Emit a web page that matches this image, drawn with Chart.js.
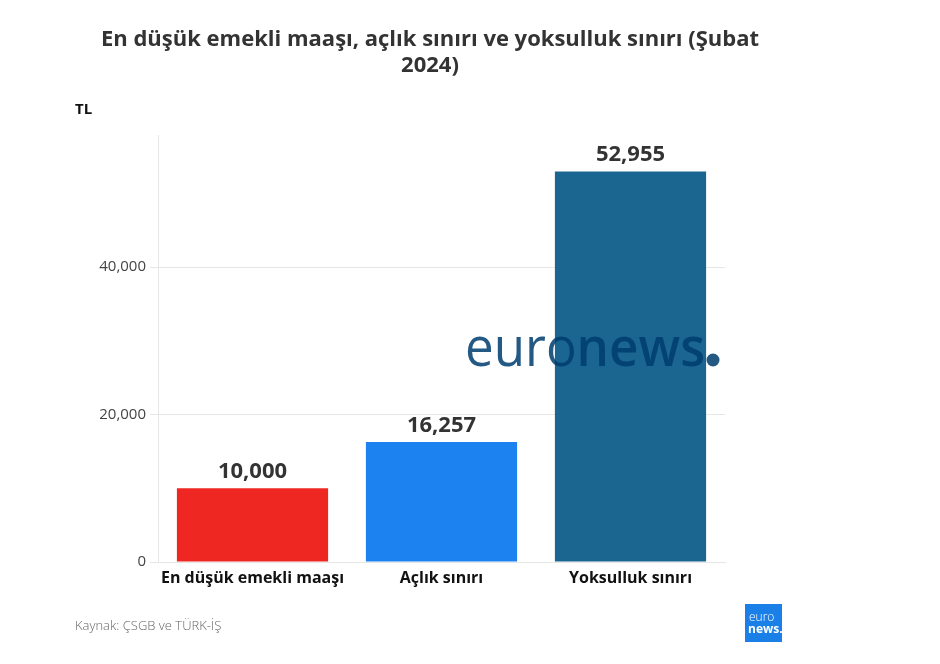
<!DOCTYPE html>
<html><head><meta charset="utf-8">
<script src="https://cdn.jsdelivr.net/npm/chart.js@4/dist/chart.umd.min.js"></script>
<style>html,body{margin:0;padding:0;background:#fff}#wrap{width:940px;height:664px;position:relative}</style>
</head><body><div id="wrap"><canvas id="c" width="940" height="664"></canvas></div>
<script>
const categories = ["En düşük emekli maaşı", "Açlık sınırı", "Yoksulluk sınırı"];
const values = [10000, 16257, 52955];
const barColors = ["#ee2722", "#1c82ef", "#1b6691"];
const yTicks = [0, 20000, 40000];
const titleLines = ["En düşük emekli maaşı, açlık sınırı ve yoksulluk sınırı (Şubat", "2024)"];
const unitLabel = "TL";
const sourceText = "Kaynak: ÇSGB ve TÜRK-İŞ";

const fmt = v => v.toLocaleString('en-US');
const FONT = "'Open Sans', 'Noto Sans', sans-serif";

const decor = {
  id: 'decor',
  afterDatasetsDraw(chart) {
    const ctx = chart.ctx;
    ctx.save();
    ctx.fillStyle = '#333';
    ctx.font = "bold 22px " + FONT;
    ctx.textAlign = 'center';
    ctx.textBaseline = 'alphabetic';
    chart.getDatasetMeta(0).data.forEach((bar, i) => {
      ctx.fillText(fmt(values[i]), bar.x, bar.y - 10);
    });
    ctx.restore();
  },
  afterDraw(chart) {
    const ctx = chart.ctx;
    ctx.save();
    // title
    ctx.fillStyle = '#333';
    ctx.font = "bold 22px " + FONT;
    ctx.textAlign = 'center';
    ctx.textBaseline = 'middle';
    titleLines.forEach((t, i) => ctx.fillText(t, 430, 40 + i * 26));
    // unit
    ctx.fillStyle = '#111';
    ctx.font = "bold 15px " + FONT;
    ctx.textAlign = 'left';
    ctx.fillText(unitLabel, 75, 110);
    // source
    ctx.fillStyle = '#666';
    ctx.font = "300 13px " + FONT;
    ctx.fillText(sourceText, 75, 626);
    // watermark
    ctx.fillStyle = 'rgba(0,62,112,0.86)';
    ctx.textBaseline = 'alphabetic';
    ctx.font = "400 54px " + FONT;
    const w1 = ctx.measureText('euro').width;
    ctx.font = "600 54px " + FONT;
    const w2 = ctx.measureText('news').width;
    const sx = 240 / (w1 + w2);
    ctx.save();
    ctx.translate(465, 366);
    ctx.scale(sx, 1);
    ctx.font = "400 54px " + FONT;
    ctx.fillText('euro', 0, 0);
    ctx.font = "600 54px " + FONT;
    ctx.fillText('news', w1, 0);
    ctx.restore();
    ctx.beginPath();
    ctx.arc(713, 360, 6.5, 0, Math.PI * 2);
    ctx.fill();
    // logo
    ctx.fillStyle = '#1a80e8';
    ctx.fillRect(745, 604, 37, 38);
    ctx.fillStyle = '#fff';
    ctx.textAlign = 'left';
    ctx.font = "300 12px " + FONT;
    ctx.fillText('euro', 749, 621);
    ctx.font = "bold 12px " + FONT;
    ctx.fillText('news.', 748, 633);
    ctx.restore();
  }
};

new Chart(document.getElementById('c'), {
  type: 'bar',
  data: {
    labels: categories,
    datasets: [{ data: values, backgroundColor: barColors, borderWidth: 0,
      barPercentage: 0.8, categoryPercentage: 1.0 }]
  },
  options: {
    responsive: false,
    animation: false,
    layout: { padding: { top: 135, right: 215, left: 0, bottom: 0 } },
    plugins: { legend: { display: false }, tooltip: { enabled: false }, title: { display: false } },
    scales: {
      x: {
        grid: { display: false, drawTicks: false },
        border: { display: true, color: '#e6e6e6' },
        ticks: { color: '#111', font: { family: FONT, size: 16, weight: 'bold' }, padding: 7, maxRotation: 0 },
        afterFit(s) { s.height = 102; }
      },
      y: {
        min: 0, max: 57900,
        afterBuildTicks(s) { s.ticks = yTicks.map(v => ({ value: v })); },
        grid: { color: '#e6e6e6', tickLength: 8, tickColor: '#e6e6e6' },
        border: { display: true, color: '#e6e6e6' },
        ticks: { color: '#444', font: { family: FONT, size: 15 }, padding: 4, callback: v => fmt(v) },
        afterFit(s) { s.width = 158; }
      }
    }
  },
  plugins: [decor]
});
</script></body></html>
